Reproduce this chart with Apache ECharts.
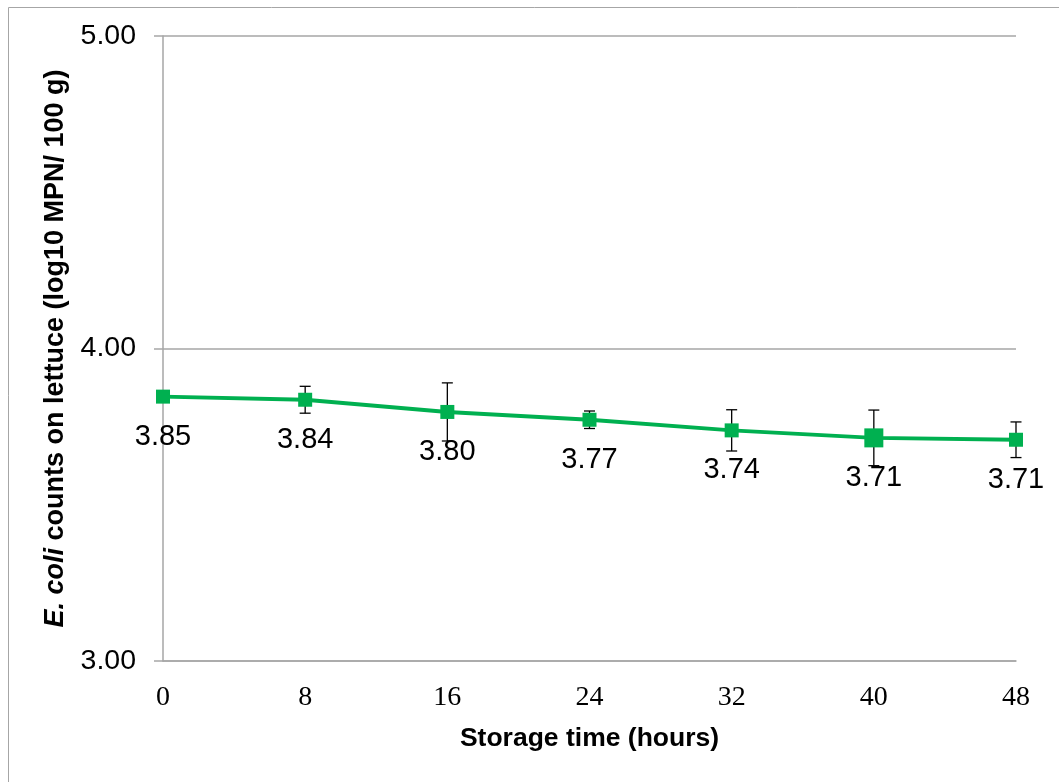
<!DOCTYPE html>
<html>
<head>
<meta charset="utf-8">
<script src="https://cdn.jsdelivr.net/npm/echarts@6/dist/echarts.min.js"></script>
<style>html,body{margin:0;padding:0;background:#fff;}#c{width:1059px;height:782px;}</style>
</head>
<body>
<div id="c"></div>
<script>
const hours = [0, 8, 16, 24, 32, 40, 48];
const counts = [3.846, 3.836, 3.797, 3.772, 3.738, 3.714, 3.708];
const errors = [0.0, 0.043, 0.093, 0.028, 0.066, 0.089, 0.057];
const yTicks = [3, 4, 5];
const xTitle = 'Storage time (hours)';
const yTitleItalic = 'E. coli';
const yTitleRest = ' counts on lettuce (log10 MPN/ 100 g)';

const chart = echarts.init(document.getElementById('c'), null, {renderer: 'canvas'});
const lineData = hours.map((h, i) => {
  const item = {value: [h, counts[i]]};
  if (h === 40) item.symbolSize = 19;
  return item;
});
const errData = hours.map((h, i) => [h, counts[i] - errors[i], counts[i] + errors[i]]);
const SANS = '"Liberation Sans", Arial, sans-serif';

chart.setOption({
  animation: false,
  backgroundColor: '#ffffff',
  graphic: [{
    type: 'rect', shape: {x: 8.5, y: 7.5, width: 1200, height: 900},
    style: {fill: 'none', stroke: '#a6a6a6', lineWidth: 1}, silent: true
  }],
  grid: {left: 163, right: 43, top: 36, bottom: 121},
  xAxis: {
    type: 'value', min: 0, max: 48, interval: 8,
    axisLine: {show: true, lineStyle: {color: '#a6a6a6', width: 1.5}},
    axisTick: {show: false},
    splitLine: {show: false},
    axisLabel: {color: '#000', fontFamily: '"Liberation Serif", "Times New Roman", serif', fontSize: 28, margin: 23},
    name: xTitle, nameLocation: 'middle', nameGap: 64,
    nameTextStyle: {color: '#000', fontFamily: SANS, fontSize: 26.5, fontWeight: 'bold'}
  },
  yAxis: {
    type: 'value', min: yTicks[0], max: yTicks[yTicks.length - 1], interval: 1,
    axisLine: {show: true, lineStyle: {color: '#a6a6a6', width: 1.5}},
    axisTick: {show: true, length: 9, inside: false, lineStyle: {color: '#a6a6a6', width: 1.5}},
    splitLine: {show: true, lineStyle: {color: '#a6a6a6', width: 1.5}},
    axisLabel: {color: '#000', fontFamily: SANS, fontSize: 28.5, margin: 27,
      formatter: v => v.toFixed(2)},
    name: '{i|' + yTitleItalic + '}{b|' + yTitleRest + '}',
    nameLocation: 'middle', nameGap: 94, nameRotate: 90,
    nameTextStyle: {
      color: '#000', fontFamily: SANS, fontSize: 27, fontWeight: 'bold',
      rich: {
        i: {fontStyle: 'italic', fontWeight: 'bold', fontSize: 27, fontFamily: SANS, color: '#000'},
        b: {fontWeight: 'bold', fontSize: 27, fontFamily: SANS, color: '#000'}
      }
    }
  },
  series: [
    {
      type: 'custom',
      z: 1,
      data: errData,
      renderItem: function (params, api) {
        const x = api.value(0);
        const lo = api.coord([x, api.value(1)]);
        const hi = api.coord([x, api.value(2)]);
        const cap = 5.5;
        const style = {stroke: '#000', lineWidth: 1.3, fill: 'none'};
        return {
          type: 'group',
          children: [
            {type: 'line', shape: {x1: lo[0], y1: lo[1], x2: hi[0], y2: hi[1]}, style: style},
            {type: 'line', shape: {x1: lo[0] - cap, y1: lo[1], x2: lo[0] + cap, y2: lo[1]}, style: style},
            {type: 'line', shape: {x1: hi[0] - cap, y1: hi[1], x2: hi[0] + cap, y2: hi[1]}, style: style}
          ]
        };
      }
    },
    {
      type: 'line',
      z: 2,
      data: lineData,
      symbol: 'rect',
      symbolSize: 14,
      lineStyle: {color: '#00b050', width: 4},
      itemStyle: {color: '#00b050'},
      label: {
        show: true, position: 'inside', offset: [0, 40],
        color: '#000', fontFamily: SANS, fontSize: 29,
        formatter: p => p.value[1].toFixed(2)
      }
    }
  ]
});
</script>
</body>
</html>
